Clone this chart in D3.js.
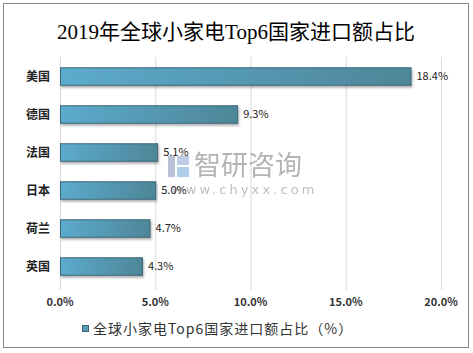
<!DOCTYPE html>
<html>
<head>
<meta charset="utf-8">
<script src="https://cdn.jsdelivr.net/npm/d3@7"></script>
<style>
  body { margin: 0; background: #fff; }
  svg { display: block; }
</style>
</head>
<body>
<div id="chart"></div>
<script>
const countries = ["美国", "德国", "法国", "日本", "荷兰", "英国"];
const shares = [18.4, 9.3, 5.1, 5.0, 4.7, 4.3];
const ticks = [0, 5, 10, 15, 20];
const title = "2019年全球小家电Top6国家进口额占比";
const seriesName = "全球小家电Top6国家进口额占比（%）";

const W = 473, H = 353;
const svg = d3.select("#chart").append("svg")
    .attr("width", W)
    .attr("height", H);

const defs = svg.append("defs");
const grad = defs.append("linearGradient")
    .attr("id", "barGrad")
    .attr("x1", "0%").attr("x2", "100%")
    .attr("y1", "0%").attr("y2", "0%");
grad.append("stop").attr("offset", "0%").attr("stop-color", "#5cabcd");
grad.append("stop").attr("offset", "100%").attr("stop-color", "#4e8698");

const shadow = defs.append("filter").attr("id", "shadow")
    .attr("x", "-5%").attr("y", "-20%").attr("width", "110%").attr("height", "160%");
shadow.append("feDropShadow")
    .attr("dx", 1).attr("dy", 2).attr("stdDeviation", 1)
    .attr("flood-color", "#000").attr("flood-opacity", 0.3);

// outer frame
svg.append("rect")
    .attr("x", 3.5).attr("y", 3.5)
    .attr("width", 465).attr("height", 344)
    .attr("fill", "#fff")
    .attr("stroke", "#888")
    .attr("stroke-width", 1);

svg.append("text")
    .attr("x", 236)
    .attr("y", 39)
    .attr("text-anchor", "middle")
    .attr("font-family", "'Liberation Serif', 'Noto Sans CJK SC', serif")
    .attr("font-size", 21)
    .attr("fill", "#000")
    .text(title);

const x = d3.scaleLinear().domain([0, 20]).range([60, 441]);
const y = d3.scaleBand().domain(countries).range([57, 285]).paddingInner(0.54).paddingOuter(0.27);

// gridlines
svg.append("g")
    .selectAll("line")
    .data(ticks)
    .join("line")
    .attr("x1", d => x(d) + 0.5)
    .attr("x2", d => x(d) + 0.5)
    .attr("y1", 57)
    .attr("y2", 290)
    .attr("stroke", "#d9d9d9")
    .attr("stroke-width", 1);

// x tick labels
svg.append("g")
    .selectAll("text")
    .data(ticks)
    .join("text")
    .attr("x", d => x(d))
    .attr("y", 306)
    .attr("text-anchor", "middle")
    .attr("font-family", "'Noto Sans CJK SC', 'DejaVu Sans', sans-serif")
    .attr("font-size", 11)
    .attr("font-weight", "bold")
    .attr("fill", "#333")
    .text(d => d3.format(".1f")(d) + "%");

// bars
svg.append("g")
    .selectAll("rect")
    .data(shares)
    .join("rect")
    .attr("x", x(0) + 0.5)
    .attr("y", (d, i) => y(countries[i]) + 0.5)
    .attr("width", d => x(d) - x(0))
    .attr("height", y.bandwidth())
    .attr("fill", "url(#barGrad)")
    .attr("stroke", "#3b6679")
    .attr("stroke-width", 1)
    .attr("filter", "url(#shadow)");

// category labels
svg.append("g")
    .selectAll("text")
    .data(countries)
    .join("text")
    .attr("x", 50)
    .attr("y", d => y(d) + y.bandwidth() / 2 + 5)
    .attr("text-anchor", "end")
    .attr("font-family", "'Noto Sans CJK SC', sans-serif")
    .attr("font-size", 12)
    .attr("font-weight", "bold")
    .attr("fill", "#222")
    .text(d => d);

// watermark
const wm = svg.append("g").attr("opacity", 0.55);
wm.append("rect").attr("x", 168).attr("y", 156).attr("width", 7).attr("height", 21).attr("fill", "#7d8fb8");
wm.append("rect").attr("x", 177).attr("y", 156).attr("width", 12).attr("height", 9).attr("fill", "#8aa2d0");
wm.append("rect").attr("x", 177).attr("y", 167).attr("width", 12).attr("height", 10).attr("fill", "#6ea4d8");
wm.append("text")
    .attr("x", 194).attr("y", 175)
    .attr("font-family", "'Noto Sans CJK SC', sans-serif")
    .attr("font-size", 27)
    .attr("fill", "#777")
    .text("智研咨询");
wm.append("text")
    .attr("x", 172).attr("y", 194)
    .attr("font-family", "'DejaVu Sans', sans-serif")
    .attr("font-size", 13)
    .attr("letter-spacing", 3.1)
    .attr("fill", "#888")
    .text("www.chyxx.com");

// value labels
svg.append("g")
    .selectAll("text")
    .data(shares)
    .join("text")
    .attr("x", d => x(d) + 6)
    .attr("y", (d, i) => y(countries[i]) + y.bandwidth() / 2 + 4)
    .attr("font-family", "'Noto Sans CJK SC', 'DejaVu Sans', sans-serif")
    .attr("font-size", 11)
    .attr("fill", "#222")
    .text(d => d3.format(".1f")(d) + "%");

// legend
svg.append("rect")
    .attr("x", 82.5).attr("y", 325.5)
    .attr("width", 6).attr("height", 6)
    .attr("fill", "#5a9bb6")
    .attr("stroke", "#3b6679");
svg.append("text")
    .attr("x", 93)
    .attr("y", 334)
    .attr("font-family", "'Noto Sans CJK SC', sans-serif")
    .attr("font-size", 14)
    .attr("letter-spacing", 1)
    .attr("fill", "#333")
    .text(seriesName);
</script>
</body>
</html>
